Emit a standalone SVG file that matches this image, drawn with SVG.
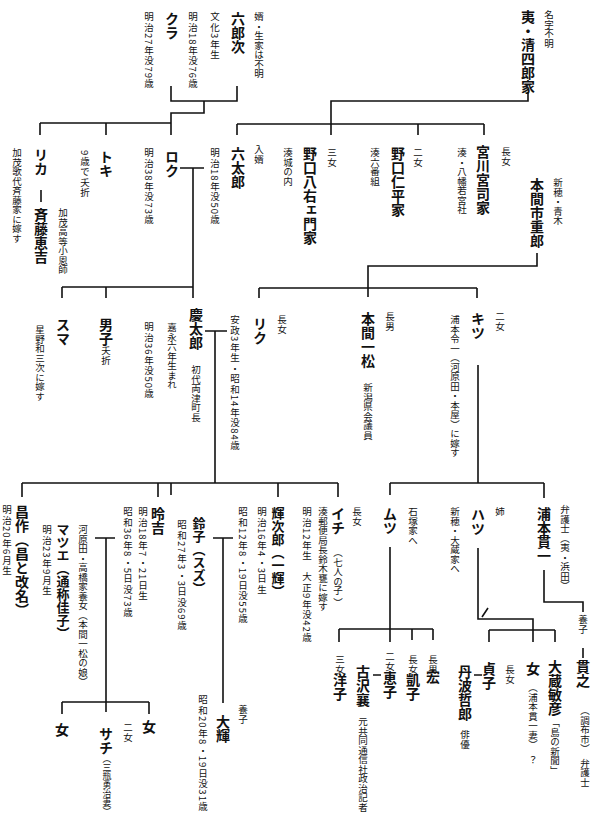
<svg xmlns="http://www.w3.org/2000/svg" width="598" height="820" viewBox="0 0 598 820">
<style>
text { font-family: "Noto Sans CJK JP", "Noto Sans CJK SC", sans-serif; writing-mode: vertical-rl; fill: #111; }
.n { font-size: 14px; font-weight: 700; }
.m { font-size: 13px; font-weight: 700; }
.s { font-size: 9.5px; }
.d { font-size: 9.5px; letter-spacing: 1px; }
.lines path { fill: none; stroke: #111; stroke-width: 1.6; }
</style>
<rect width="598" height="820" fill="#fff"/>
<g class="lines" id="connectors">
<path d="M528,92 V101 H331 V135 M237,124 H484 M237,124 V135 M418,124 V135 M484,124 V135"/>
<path d="M171,86 V101 H237 V86 M204,101 V113 H171 V135 M40,123 H171 M40,123 V135 M106,123 V135"/>
<path d="M41,190 V202"/>
<path d="M180,168 H204 M193,168 V298 M62,287 H193 M62,287 V298 M106,287 V298"/>
<path d="M537,253 V266 H368 V297 M259,288 H477 M259,288 V298 M477,288 V298"/>
<path d="M205,331 H227 M215,331 V483 M22,483 H338 M22,483 V497 M158,483 V497 M171,483 V495 M278,483 V497 M338,483 V497"/>
<path d="M478,365 V483 M390,483 H544 M390,483 V495 M544,483 V498"/>
<path d="M95,538 H115 M106,538 V712 M62,702 H149 M62,702 V714 M149,702 V714"/>
<path d="M213,538 H233 M223,538 V703"/>
<path d="M390,547 V642 M339,629 H433 M339,629 V642 M412,629 V640 M433,629 V640"/>
<path d="M478,548 V619 H533 V642 M489,630 H555 M489,630 V642 M555,630 V642 M488,608 L482,617"/>
<path d="M544,570 V602 H583 V612 M583,648 V658"/>
<path d="M373,675 H381 M474,675 H482"/>
</g>
<g id="kiyoshiro"><text class="n" x="528" y="10">夷・清四郎家</text><text class="s" x="549" y="10">名字不明</text></g>
<g id="rokujiro"><text class="n" x="238" y="12">六郎次</text><text class="d" x="215" y="12">文化3年生</text><text class="s" x="259" y="12">婿・生家は不明</text><text class="d" x="193" y="12">明治18年没76歳</text></g>
<g id="kura"><text class="n" x="172" y="12">クラ</text><text class="d" x="149" y="12">明治27年没79歳</text></g>
<g id="rika"><text class="n" x="41" y="148">リカ</text><text class="s" x="17" y="148">加茂歌代斉藤家に嫁す</text></g>
<g id="saito"><text class="n" x="41" y="208">斉藤恵吉</text><text class="s" x="63" y="208">加茂高等小恩師</text></g>
<g id="toki"><text class="n" x="106" y="150">トキ</text><text class="d" x="85" y="150">9歳で夭折</text></g>
<g id="roku"><text class="n" x="172" y="150">ロク</text><text class="d" x="149" y="148">明治38年没73歳</text></g>
<g id="rokutaro"><text class="n" x="238" y="147">六太郎</text><text class="s" x="259" y="145">入婿</text><text class="d" x="215" y="148">明治18年没50歳</text></g>
<g id="noguchi-hachiemon"><text class="n" x="310" y="147">野口八右ェ門家</text><text class="s" x="288" y="148">湊城の内</text><text class="s" x="332" y="148">三女</text></g>
<g id="noguchi-nihei"><text class="n" x="398" y="147">野口仁平家</text><text class="s" x="375" y="148">湊六番組</text><text class="s" x="418" y="148">二女</text></g>
<g id="miyagawa"><text class="n" x="483" y="145">宮川宮司家</text><text class="s" x="462" y="148">湊・八幡若宮社</text><text class="s" x="506" y="147">長女</text></g>
<g id="homma-ichijuro"><text class="n" x="537" y="178">本間市重郎</text><text class="s" x="558" y="178">新穂・青木</text></g>
<g id="suma"><text class="n" x="63" y="318">スマ</text><text class="s" x="40" y="325">星野和三次に嫁す</text></g>
<g id="danshi"><text class="n" x="106" y="318">男子</text><text class="s" x="106" y="346">夭折</text></g>
<g id="keitaro"><text class="n" x="196" y="308">慶太郎</text><text class="s" x="196" y="365">初代両津町長</text><text class="s" x="172" y="323">嘉永六年生まれ</text><text class="d" x="149" y="322">明治36年没50歳</text></g>
<g id="riku"><text class="n" x="260" y="317">リク</text><text class="s" x="282" y="315">長女</text><text class="d" x="235" y="315">安政3年生・昭和14年没84歳</text></g>
<g id="homma-ichimatsu"><text class="n" x="368" y="312">本間一松</text><text class="s" x="390" y="312">長男</text><text class="s" x="368" y="383">新潟県会議員</text></g>
<g id="kitsu"><text class="n" x="478" y="312">キツ</text><text class="s" x="500" y="312">二女</text><text class="s" x="455" y="315">浦本令一（河原田・本屋）に嫁す</text></g>
<g id="shosaku"><text class="n" x="22" y="505">昌作（昌と改名）</text><text class="d" x="7" y="505">明治20年6月生</text></g>
<g id="matsue"><text class="m" x="63" y="523">マツエ（通称佳子）</text><text class="d" x="47" y="525">明治23年9月生</text><text class="s" x="83" y="525">河原田・高橋家養女（本間一松の娘）</text></g>
<g id="reikichi"><text class="n" x="158" y="507">昤吉</text><text class="d" x="143" y="507">明治18年7・21日生</text><text class="d" x="128" y="507">昭和36年8・5日没73歳</text></g>
<g id="suzuko"><text class="m" x="199" y="517">鈴子（スズ）</text><text class="d" x="182" y="520">昭和27年3・3日没69歳</text></g>
<g id="kijiro"><text class="m" x="278" y="507">輝次郎（一輝）</text><text class="d" x="262" y="507">明治16年4・3日生</text><text class="d" x="243" y="507">昭和12年8・19日没55歳</text></g>
<g id="ichi"><text class="n" x="338" y="507">イチ</text><text class="s" x="338" y="548">（七人の子 ）</text><text class="s" x="357" y="507">長女</text><text class="s" x="323" y="507">湊郵便局長鈴木甕に嫁す</text><text class="d" x="307" y="507">明治12年生　大正9年没42歳</text></g>
<g id="mutsu"><text class="n" x="390" y="507">ムツ</text><text class="s" x="413" y="507">石塚家へ</text></g>
<g id="hatsu"><text class="n" x="478" y="508">ハツ</text><text class="s" x="455" y="507">新穂・大蔵家へ</text><text class="s" x="500" y="507">姉</text></g>
<g id="uramoto-kanichi"><text class="n" x="544" y="507">浦本貫一</text><text class="s" x="565" y="505">弁護士（夷・浜田）</text></g>
<g id="onna-1"><text class="n" x="62" y="723">女</text></g>
<g id="sachi"><text class="n" x="106" y="727">サチ</text><text class="s" x="107" y="754" style="font-size:8.8px">（三瓶勇治妻）</text><text class="s" x="128" y="723">二女</text></g>
<g id="onna-2"><text class="n" x="149" y="720">女</text></g>
<g id="daiki"><text class="n" x="223" y="715">大輝</text><text class="s" x="243" y="705">養子</text><text class="d" x="203" y="695">昭和20年8・19日没31歳</text></g>
<g id="yoko"><text class="s" x="340" y="655">三女</text><text class="n" x="340" y="673">洋子</text></g>
<g id="furusawa"><text class="n" x="363" y="665">古沢襄</text><text class="s" x="363" y="717">元共同通信社政治記者</text></g>
<g id="keiko"><text class="s" x="390" y="652">二女</text><text class="n" x="390" y="671">恵子</text></g>
<g id="gaiko"><text class="s" x="413" y="655">長女</text><text class="n" x="413" y="673">凱子</text></g>
<g id="hiroshi"><text class="s" x="433" y="655">長男</text><text class="n" x="433" y="670">宏</text></g>
<g id="tanba"><text class="n" x="465" y="665">丹波哲郎</text><text class="s" x="465" y="730">俳優</text></g>
<g id="sadako"><text class="n" x="489" y="662">貞子</text><text class="s" x="510" y="665">長女</text></g>
<g id="onna-3"><text class="n" x="533" y="662">女</text><text class="s" x="533" y="683">（浦本貫一妻）　？</text></g>
<g id="okura"><text class="n" x="555" y="660">大蔵敏彦</text><text class="s" x="555" y="718">「島の新聞」</text></g>
<g id="tsurayuki"><text class="s" x="583" y="615">養子</text><text class="n" x="583" y="660">貫之</text><text class="s" x="585" y="706">（調布市）　弁護士</text></g>
</svg>
